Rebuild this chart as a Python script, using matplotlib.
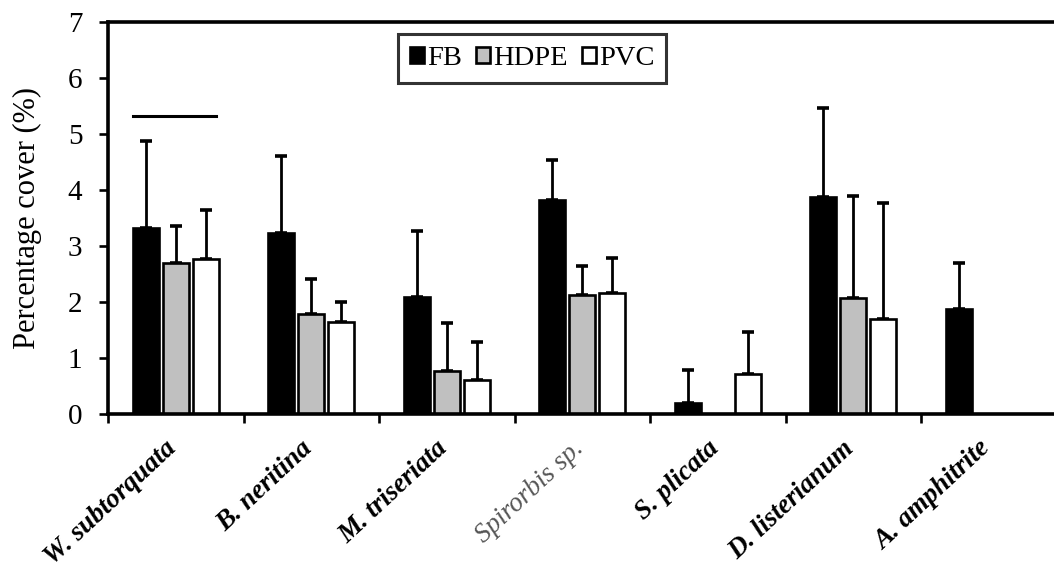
import numpy as np
import matplotlib
matplotlib.use("Agg")
import matplotlib.pyplot as plt
from matplotlib.transforms import ScaledTranslation

categories = ["W. subtorquata", "B. neritina", "M. triseriata", "Spirorbis sp.",
              "S. plicata", "D. listerianum", "A. amphitrite"]
series = ["FB", "HDPE", "PVC"]
fb_mean = [3.33, 3.23, 2.09, 3.83, 0.20, 3.88, 1.88]
fb_err = [1.55, 1.38, 1.18, 0.71, 0.58, 1.59, 0.82]
hdpe_mean = [2.70, 1.78, 0.77, 2.13, np.nan, 2.07, np.nan]
hdpe_err = [0.66, 0.63, 0.85, 0.52, np.nan, 1.82, np.nan]
pvc_mean = [2.76, 1.65, 0.60, 2.16, 0.72, 1.69, np.nan]
pvc_err = [0.89, 0.35, 0.69, 0.62, 0.74, 2.07, np.nan]
sig_line_y = 5.33
sig_line_x = [0.185, 0.80]

plt.rcParams['font.family'] = ['Liberation Serif', 'DejaVu Serif']

fig = plt.figure(figsize=(10.54, 5.82), dpi=100)
ax = fig.add_axes([0.1025, 0.2887, 0.9, 0.6735])

means = [fb_mean, hdpe_mean, pvc_mean]
errs = [fb_err, hdpe_err, pvc_err]
colors = ["black", "#c0c0c0", "white"]
offsets = [-0.221, 0.0, 0.221]
width = 0.192
x = np.arange(len(categories)) + 0.5

for m, e, c, o, lab in zip(means, errs, colors, offsets, series):
    m = np.array(m, dtype=float)
    e = np.array(e, dtype=float)
    ax.errorbar(x + o, m, yerr=[np.zeros_like(e), e], fmt='none', ecolor='black',
                elinewidth=2.0, capsize=4.3, capthick=2.6, zorder=1)
    ax.bar(x + o, m, width=width, color=c, edgecolor='black', linewidth=1.9,
           label=lab, zorder=2)

ax.plot(sig_line_x, [sig_line_y, sig_line_y], color='black', linewidth=2.2)

ax.set_xlim(0, 7)
ax.set_ylim(0, 7)
ax.set_yticks(range(8))
ax.tick_params(axis='y', direction='out', length=6.5, width=1.9, pad=12, labelsize=21)
ax.set_xticks(range(8))
ax.set_xticklabels([])
ax.tick_params(axis='x', which='major', direction='out', length=6.5, width=1.9)
ax.set_xticks(x, minor=True)
ax.set_xticklabels(categories, minor=True)
ax.tick_params(axis='x', which='minor', length=0, pad=16)
offset = ScaledTranslation(6 / 100, 0, fig.dpi_scale_trans)
for i, t in enumerate(ax.get_xticklabels(minor=True)):
    t.set_rotation(43)
    t.set_ha('right')
    t.set_va('top')
    t.set_fontsize(19.5)
    t.set_transform(t.get_transform() + offset)
    if categories[i].startswith("Spirorbis"):
        t.set_fontstyle('italic')
        t.set_fontweight('normal')
        t.set_color('#555555')
    else:
        t.set_fontstyle('italic')
        t.set_fontweight('bold')

for s in ['left', 'bottom', 'top']:
    ax.spines[s].set_linewidth(2.6)
ax.spines['right'].set_visible(False)

ax.set_ylabel("Percentage cover (%)", fontsize=22)
ax.yaxis.set_label_coords(-0.07, 0.5)

leg = ax.legend(loc='upper center', bbox_to_anchor=(532 / 1054, 1 - 34 / 582),
                bbox_transform=fig.transFigure, ncol=3, fontsize=20.5,
                frameon=True, fancybox=False, handlelength=0.5, handleheight=0.5,
                handletextpad=0.1, columnspacing=0.5, borderpad=0.42,
                borderaxespad=0)
leg.get_frame().set_edgecolor('black')
leg.get_frame().set_linewidth(2.2)

fig.savefig("out.png", dpi=100)
